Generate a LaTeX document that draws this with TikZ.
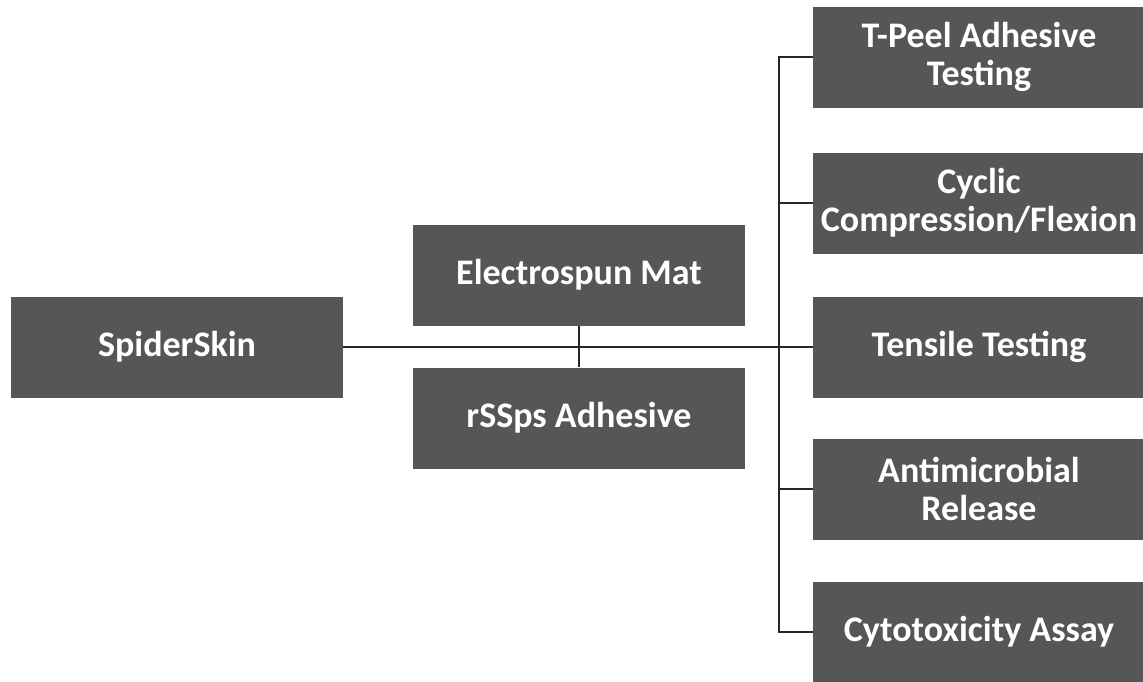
\documentclass[tikz,border=0pt]{standalone}
\usepackage{fontspec}
\setmainfont{Carlito}
\usepackage{tikz}
\usetikzlibrary{positioning}

\definecolor{boxgray}{RGB}{86,86,86}

\begin{document}
\begin{tikzpicture}[x=1pt, y=-1pt,
  box/.style={fill=boxgray, draw=none, text=white, minimum width=332pt, minimum height=101pt,
    inner sep=0pt, align=center, font=\bfseries\fontsize{36}{38}\selectfont},
  link/.style={draw=black!85, line width=1.4pt}]

\useasboundingbox (0,0) rectangle (1143,681);

% left box
\node[box] (skin) at (177,347) {SpiderSkin};

% middle boxes
\node[box] (mat) at (579,275) {Electrospun Mat};
\node[box] (adh) at (579,418) {rSSps Adhesive};

% right column
\node[box] (tpeel) at (979,57) {T-Peel Adhesive\\Testing};
\node[box] (cyclic) at (979,203) {Cyclic\\Compression/Flexion};
\node[box] (tensile) at (979,347) {Tensile Testing};
\node[box] (antimic) at (979,489) {Antimicrobial\\Release};
\node[box] (cyto) at (979,632) {Cytotoxicity Assay};

% vertical bus
\coordinate (bus) at (779,0);

% main line
\draw[link] (skin.east) -- (tensile.west);
% middle vertical bar
\draw[link] (mat.south) -- (adh.north);
% bus line
\draw[link] (tpeel.west) -| (bus |- cyto.west) -- (cyto.west);
\draw[link] (cyclic.west) -- (cyclic.west -| bus);
\draw[link] (antimic.west) -- (antimic.west -| bus);

\end{tikzpicture}
\end{document}
